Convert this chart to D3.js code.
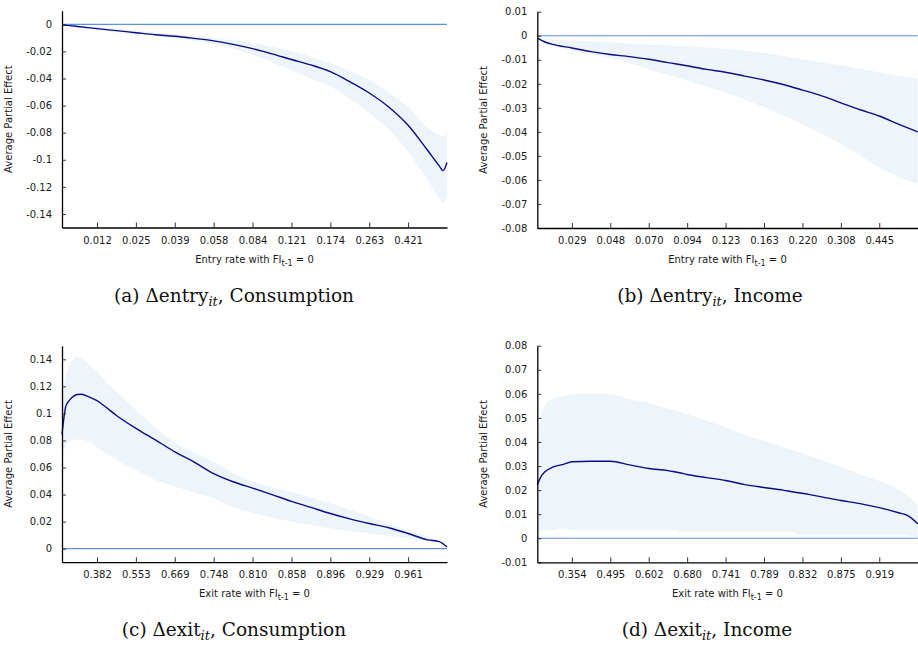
<!DOCTYPE html>
<html>
<head>
<meta charset="utf-8">
<script src="https://cdn.jsdelivr.net/npm/d3@7"></script>
<style>
    body { margin: 0; background: white; }
    text { font-family: "DejaVu Sans", sans-serif; }
    .caption { font-family: "DejaVu Serif", serif; }
</style>
</head>
<body>
<svg id="chart"></svg>
<script>
// percentile position of each point (1..100) and the values
const entryConsPos = [1, 3, 5, 10, 15, 20, 25, 30, 35, 40, 45, 50, 55, 60, 65, 70, 75, 80, 85, 90, 95, 98, 99, 100];
const entryConsApe = [-0.0005, -0.001, -0.0016, -0.0032, -0.0047, -0.0062, -0.0077, -0.0088, -0.0104, -0.0122, -0.0148, -0.018, -0.0218, -0.026, -0.030, -0.035, -0.0424, -0.0507, -0.061, -0.0745, -0.093, -0.1045, -0.108, -0.102];
const entryConsHi = [-0.0003, -0.0006, -0.001, -0.0022, -0.0035, -0.0052, -0.0062, -0.0073, -0.0085, -0.0099, -0.0117, -0.0139, -0.0165, -0.0197, -0.024, -0.0288, -0.0345, -0.0411, -0.050, -0.061, -0.076, -0.0815, -0.083, -0.079];
const entryConsLo = [-0.0007, -0.0014, -0.0022, -0.0042, -0.006, -0.0075, -0.009, -0.0105, -0.012, -0.0145, -0.0180, -0.0225, -0.028, -0.034, -0.040, -0.046, -0.055, -0.0655, -0.0775, -0.094, -0.115, -0.128, -0.132, -0.127];
const entryConsTicks = ["0.012", "0.025", "0.039", "0.058", "0.084", "0.121", "0.174", "0.263", "0.421"];

const entryIncPos = [1, 3, 5, 10, 15, 20, 25, 30, 35, 40, 45, 50, 55, 60, 65, 70, 75, 80, 85, 90, 95, 100];
const entryIncApe = [-0.001, -0.0026, -0.0036, -0.0051, -0.0066, -0.0078, -0.0087, -0.0098, -0.0112, -0.0125, -0.014, -0.0152, -0.0168, -0.0184, -0.0203, -0.0226, -0.025, -0.0279, -0.0308, -0.0334, -0.0368, -0.040];
const entryIncHi = [-0.0008, -0.0012, -0.0016, -0.002, -0.0024, -0.0028, -0.0032, -0.0036, -0.004, -0.0044, -0.0049, -0.0055, -0.0062, -0.0071, -0.0083, -0.0097, -0.011, -0.0123, -0.0137, -0.0152, -0.0166, -0.0178];
const entryIncLo = [-0.0012, -0.003, -0.0042, -0.0062, -0.0078, -0.0093, -0.0115, -0.0139, -0.0162, -0.0187, -0.0211, -0.0236, -0.0265, -0.0298, -0.0332, -0.0368, -0.0407, -0.045, -0.0498, -0.0548, -0.0588, -0.0617];
const entryIncTicks = ["0.029", "0.048", "0.070", "0.094", "0.123", "0.163", "0.220", "0.308", "0.445"];

const exitConsPos = [1, 2, 3, 4, 5, 6, 8, 10, 12, 15, 20, 25, 30, 35, 40, 45, 50, 55, 60, 65, 70, 75, 80, 85, 90, 95, 98, 100];
const exitConsApe = [0.0845, 0.1054, 0.110, 0.1128, 0.114, 0.1142, 0.1122, 0.1095, 0.1053, 0.0985, 0.089, 0.0804, 0.0716, 0.064, 0.0555, 0.0495, 0.0448, 0.040, 0.035, 0.0305, 0.026, 0.022, 0.0186, 0.0155, 0.0112, 0.0065, 0.0052, 0.0012];
const exitConsHi = [0.110, 0.128, 0.136, 0.140, 0.1418, 0.1405, 0.136, 0.131, 0.1245, 0.116, 0.1025, 0.0895, 0.0785, 0.071, 0.0642, 0.0558, 0.0498, 0.0455, 0.0422, 0.038, 0.0335, 0.0287, 0.0237, 0.0187, 0.0138, 0.009, 0.006, 0.0027];
const exitConsLo = [0.066, 0.076, 0.0795, 0.0805, 0.0808, 0.0805, 0.079, 0.0752, 0.071, 0.0655, 0.058, 0.0508, 0.046, 0.0415, 0.0372, 0.0305, 0.0265, 0.023, 0.020, 0.0175, 0.015, 0.013, 0.0113, 0.0095, 0.0076, 0.0058, 0.0045, 0.002];
const exitConsTicks = ["0.382", "0.553", "0.669", "0.748", "0.810", "0.858", "0.896", "0.929", "0.961"];

const exitIncPos = [1, 2, 3, 5, 8, 10, 15, 20, 25, 30, 35, 37, 38, 40, 45, 50, 55, 60, 65, 68, 69, 75, 80, 85, 90, 95, 97, 98, 100];
const exitIncApe = [0.0221, 0.0257, 0.0276, 0.0295, 0.0308, 0.0318, 0.032, 0.032, 0.0305, 0.029, 0.0281, 0.0275, 0.0272, 0.0265, 0.0252, 0.024, 0.0223, 0.0211, 0.020, 0.0191, 0.0189, 0.0172, 0.0157, 0.0144, 0.0127, 0.0106, 0.0097, 0.0088, 0.006];
const exitIncHi = [0.042, 0.051, 0.0552, 0.0578, 0.0592, 0.0598, 0.060, 0.0598, 0.0578, 0.0563, 0.0538, 0.0531, 0.0527, 0.0515, 0.049, 0.046, 0.0431, 0.0405, 0.0379, 0.0363, 0.0358, 0.0325, 0.0298, 0.0266, 0.0238, 0.0203, 0.018, 0.0168, 0.0138];
const exitIncLo = [0.0032, 0.0032, 0.0032, 0.0033, 0.0042, 0.0033, 0.0032, 0.0032, 0.0032, 0.0032, 0.0032, 0.0032, 0.0025, 0.0025, 0.0025, 0.0025, 0.0025, 0.0025, 0.0025, 0.0025, 0.0015, 0.0015, 0.0015, 0.0015, 0.0015, 0.0015, 0.0015, 0.001, 0.0005];
const exitIncTicks = ["0.354", "0.495", "0.602", "0.680", "0.741", "0.789", "0.832", "0.875", "0.919"];

const tickPositions = [10, 20, 30, 40, 50, 60, 70, 80, 90];

const WIDTH = 918, HEIGHT = 647;

let svg = d3.select("#chart")
    .attr("width", WIDTH)
    .attr("height", HEIGHT);

function drawPanel(p) {
    let x = d3.scaleLinear().domain([1, 100]).range([p.left, p.right]);
    let y = d3.scaleLinear().domain(p.yDomain).range([p.bottom, p.top]);
    let g = svg.append("g");

    let points = p.pos.map((d, i) => ({ pos: d, ape: p.ape[i], lo: p.lo[i], hi: p.hi[i] }));

    g.append("path")
        .datum(points)
        .attr("fill", "#edf5fa")
        .attr("d", d3.area()
            .x(d => x(d.pos))
            .y0(d => y(d.lo))
            .y1(d => y(d.hi))
            .curve(d3.curveMonotoneX));

    g.append("line")
        .attr("x1", p.left).attr("x2", p.right)
        .attr("y1", y(0)).attr("y2", y(0))
        .attr("stroke", "#5b8fe8")
        .attr("stroke-width", 1.2);

    g.append("path")
        .datum(points)
        .attr("fill", "none")
        .attr("stroke", "#0b0b8a")
        .attr("stroke-width", 1.4)
        .attr("d", d3.line()
            .x(d => x(d.pos))
            .y(d => y(d.ape))
            .curve(d3.curveMonotoneX));

    let yAxis = g.append("g")
        .attr("transform", `translate(${p.left},0)`)
        .call(d3.axisLeft(y)
            .tickValues(p.yTicks)
            .tickSizeInner(-4)
            .tickSizeOuter(0)
            .tickPadding(10)
            .tickFormat(d => String(+d.toFixed(3))));

    let xAxis = g.append("g")
        .attr("transform", `translate(0,${p.bottom})`)
        .call(d3.axisBottom(x)
            .tickValues(tickPositions)
            .tickSizeInner(-5)
            .tickSizeOuter(0)
            .tickPadding(9)
            .tickFormat((d, i) => p.xTicks[i]));

    [xAxis, yAxis].forEach(ax => {
        ax.select(".domain").attr("stroke", "#000").attr("stroke-width", 1.3);
        ax.selectAll(".tick line").attr("stroke", "#333");
        ax.selectAll(".tick text")
            .attr("font-family", "DejaVu Sans")
            .attr("font-size", "10px")
            .attr("fill", "#1a1a1a");
    });

    g.append("text")
        .attr("transform", `translate(${p.left - 50},${(p.top + p.bottom) / 2}) rotate(-90)`)
        .attr("text-anchor", "middle")
        .attr("font-size", "10px")
        .attr("fill", "#1a1a1a")
        .text("Average Partial Effect");

    let xl = g.append("text")
        .attr("x", (p.left + p.right) / 2)
        .attr("y", p.bottom + 35)
        .attr("text-anchor", "middle")
        .attr("font-size", "10px")
        .attr("fill", "#1a1a1a");
    xl.append("tspan").text(p.xLabel + " rate with FI");
    xl.append("tspan").attr("font-size", "8px").attr("dy", 3).text("t-1");
    xl.append("tspan").attr("dy", -3).text(" = 0");

    let cap = svg.append("text")
        .classed("caption", true)
        .attr("x", p.capX)
        .attr("y", p.capY)
        .attr("text-anchor", "middle")
        .attr("font-size", "18.5px")
        .attr("fill", "#111");
    cap.append("tspan").text(`(${p.letter}) \u0394${p.xLabel.toLowerCase()}`);
    cap.append("tspan").attr("font-size", "13px").attr("font-style", "italic").attr("dy", 4).text("it");
    cap.append("tspan").attr("dy", -4).text(`, ${p.outcome}`);
}

let panels = [
    { letter: "a", xLabel: "Entry", outcome: "Consumption", left: 62, right: 447, top: 10.75, bottom: 227.5,
      yDomain: [-0.15, 0.01], yTicks: d3.range(0, -0.141, -0.02), capX: 234, capY: 302,
      pos: entryConsPos, ape: entryConsApe, lo: entryConsLo, hi: entryConsHi, xTicks: entryConsTicks },
    { letter: "b", xLabel: "Entry", outcome: "Income", left: 537.3, right: 917.7, top: 11.7, bottom: 228,
      yDomain: [-0.08, 0.01], yTicks: d3.range(0.01, -0.081, -0.01), capX: 710, capY: 302,
      pos: entryIncPos, ape: entryIncApe, lo: entryIncLo, hi: entryIncHi, xTicks: entryIncTicks },
    { letter: "c", xLabel: "Exit", outcome: "Consumption", left: 62, right: 447, top: 345.8, bottom: 562.2,
      yDomain: [-0.01, 0.15], yTicks: d3.range(0, 0.141, 0.02), capX: 234, capY: 636,
      pos: exitConsPos, ape: exitConsApe, lo: exitConsLo, hi: exitConsHi, xTicks: exitConsTicks },
    { letter: "d", xLabel: "Exit", outcome: "Income", left: 537.3, right: 917.7, top: 345.7, bottom: 562.3,
      yDomain: [-0.01, 0.08], yTicks: d3.range(-0.01, 0.081, 0.01), capX: 707, capY: 636,
      pos: exitIncPos, ape: exitIncApe, lo: exitIncLo, hi: exitIncHi, xTicks: exitIncTicks }
];

panels.forEach(drawPanel);
</script>
</body>
</html>
